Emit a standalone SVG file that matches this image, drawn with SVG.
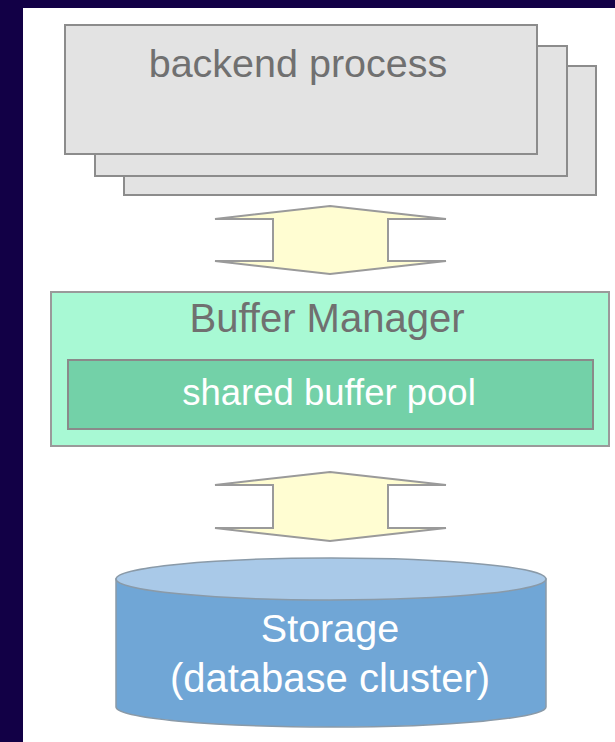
<svg xmlns="http://www.w3.org/2000/svg" width="615" height="742" viewBox="0 0 615 742">
<style>
.proc{fill:#e3e3e3;stroke:#8c8c8c;stroke-width:2}
.arrow{fill:#fffdd2;stroke:#9a9a9a;stroke-width:2;stroke-linejoin:miter}
.t{font-family:"Liberation Sans",Arial,sans-serif;text-anchor:middle}
</style>
<rect x="0" y="0" width="615" height="742" fill="#120046"/>
<rect x="23" y="8" width="592" height="734" fill="#ffffff"/>
<g id="backend">
<rect class="proc" x="124" y="66" width="472" height="129"/>
<rect class="proc" x="95" y="46" width="472" height="130"/>
<rect class="proc" x="65" y="25" width="472" height="129"/>
<text class="t" x="298" y="77" font-size="39.5" fill="#707070">backend process</text>
</g>
<g id="connectors">
<polygon class="arrow" points="330,206 446,219 388,219 388,261 446,261 330,274 215,261 273,261 273,219 215,219"/>
<polygon class="arrow" points="330,472 446,485 388,485 388,528 446,528 330,541 215,528 273,528 273,485 215,485"/>
</g>
<g id="buffer-manager">
<rect x="51" y="292" width="558" height="154" fill="#a8f9d4" stroke="#9a9a9a" stroke-width="2"/>
<text class="t" x="327" y="332" font-size="40" fill="#707070">Buffer Manager</text>
</g>
<g id="shared-buffer-pool">
<rect x="68" y="360" width="525" height="69" fill="#73d1a8" stroke="#8a8a8a" stroke-width="2"/>
<text class="t" x="329" y="405" font-size="36.5" fill="#ffffff">shared buffer pool</text>
</g>
<g id="storage">
<path d="M116,579 L116,707 A215,20 0 0 0 546,707 L546,579 Z" fill="#70a6d6" stroke="#8a9aa8" stroke-width="1.5"/>
<ellipse cx="331" cy="579" rx="215" ry="21" fill="#a9c9e8" stroke="#8a9aa8" stroke-width="1.5"/>
<text class="t" x="330" y="642" font-size="39.5" fill="#ffffff">Storage</text>
<text class="t" x="330" y="692" font-size="40" fill="#ffffff">(database cluster)</text>
</g>
</svg>
